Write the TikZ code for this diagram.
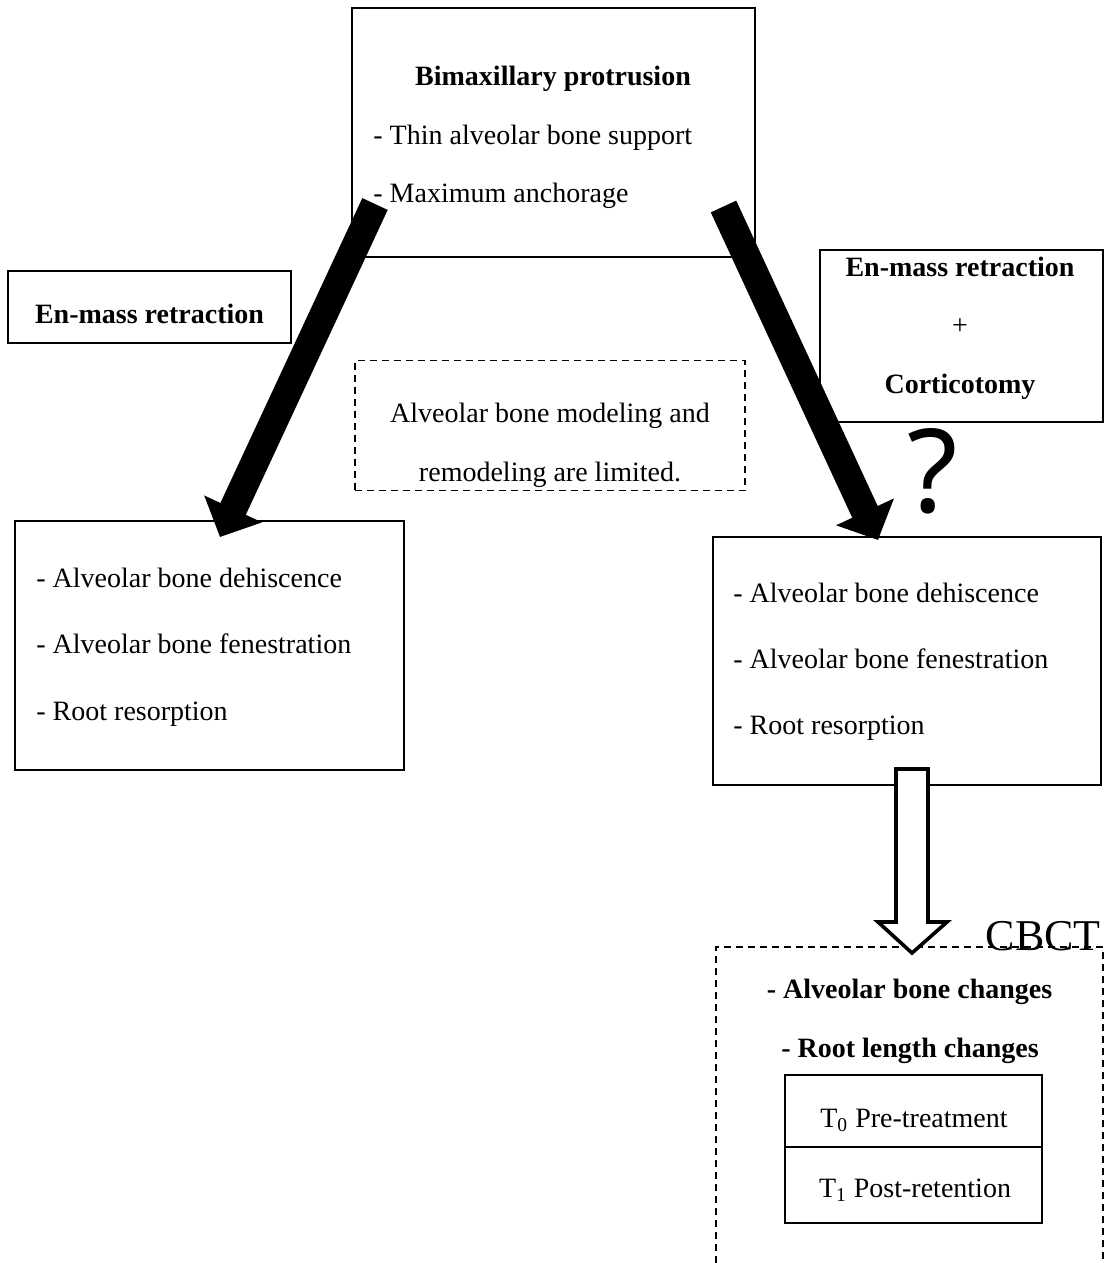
\documentclass[tikz,border=0pt]{standalone}
\usepackage{fontspec}
\setmainfont{Liberation Serif}
\newfontfamily\qfont{Noto Sans}
\usetikzlibrary{arrows.meta,calc}
\begin{document}
\begin{tikzpicture}[x=0.5pt,y=-0.5pt,
  font=\fontsize{14}{17}\selectfont,
  box/.style={draw, line width=0.9pt, inner sep=0pt},
  dbox/.style={draw, line width=0.6pt, dash pattern=on 3.5pt off 2.5pt},
  txt/.style={inner sep=0pt, anchor=base west},
  ctxt/.style={inner sep=0pt, anchor=base},
  bigarrow/.style={line width=14pt, -{Triangle[width=31pt,length=15.5pt]}},
  hollow/.style={draw, line width=1.8pt, fill=white, line join=miter}
]
\useasboundingbox (0,0) rectangle (1112,1263);

% top box
\node[box, minimum width=201.5pt, minimum height=124.5pt] (top) at (553.5,132.5) {};
\node[ctxt] (t1) at (553,86) {\bfseries Bimaxillary protrusion};
\node[txt] (t2) at (373,145) {- Thin alveolar bone support};
\node[txt] (t3) at (373,202) {- Maximum anchorage};

% left treatment box
\node[box, minimum width=141.5pt, minimum height=36pt] (lret) at (149.5,307) {};
\node[ctxt] (lrett) at (149.5,323) {\bfseries En-mass retraction};

% middle dashed box
\node[dbox, minimum width=195pt, minimum height=65pt] (mid) at (550,425.5) {};
\node[ctxt] (m1) at (550,422) {Alveolar bone modeling and};
\node[ctxt] (m2) at (550,481) {remodeling are limited.};

% right treatment box
\node[box, minimum width=141.5pt, minimum height=86pt] (rret) at (961.5,336) {};
\node[ctxt] (r1) at (960,276) {\bfseries En-mass retraction};
\node[ctxt] (r2) at (960,334) {+};
\node[ctxt] (r3) at (960,393) {\bfseries Corticotomy};

% question mark
\node[ctxt] (q) at (933,512) {\qfont\fontsize{58}{60}\selectfont ?};

% left result box
\node[box, minimum width=194.5pt, minimum height=124.5pt] (lres) at (209.5,645.5) {};
\node[txt] (l1) at (36,587) {- Alveolar bone dehiscence};
\node[txt] (l2) at (36,653) {- Alveolar bone fenestration};
\node[txt] (l3) at (36,720) {- Root resorption};

% right result box
\node[box, minimum width=194pt, minimum height=124pt] (rres) at (907,661) {};
\node[txt] (rr1) at (733,602) {- Alveolar bone dehiscence};
\node[txt] (rr2) at (733,668) {- Alveolar bone fenestration};
\node[txt] (rr3) at (733,734) {- Root resorption};

% big black arrows
\coordinate (la0) at (375,204);
\coordinate (la1) at (220,537);
\coordinate (ra0) at (723.5,206.5);
\coordinate (ra1) at (878,540);
\draw[bigarrow] (la0) -- (la1);
\draw[bigarrow] (ra0) -- (ra1);

% CBCT dashed region (open at bottom)
\coordinate (c1) at (716,1263);
\coordinate (c2) at (716,947);
\coordinate (c3) at (1103,947);
\coordinate (c4) at (1103,1263);
\draw[dbox] (c1) -- (c2) -- (c3) -- (c4);
\node[inner sep=0pt, anchor=base east, font=\fontsize{22}{24}\selectfont] (cbct) at (1101,950) {CBCT};

% hollow arrow
\coordinate (ha0) at (912,769);
\coordinate (ha1) at (912,953);
\draw[hollow] ($(ha0)+(-16,0)$) -- ($(ha0)+(16,0)$) -- ($(ha1)+(16,-31)$) -- ($(ha1)+(35,-31)$)
  -- (ha1) -- ($(ha1)+(-34,-31)$) -- ($(ha1)+(-16,-31)$) -- cycle;

\node[ctxt] (cb1) at (909.5,998) {\bfseries - Alveolar bone changes};
\node[ctxt] (cb2) at (910,1057) {\bfseries - Root length changes};

\node[box, minimum width=128.5pt, minimum height=36pt] (tz) at (913.5,1111) {};
\node[box, minimum width=128.5pt, minimum height=38pt] (to) at (913.5,1185) {};
\node[ctxt] (tzt) at (914,1127) {T\textsubscript{0} Pre-treatment};
\node[ctxt] (tot) at (915,1197) {T\textsubscript{1} Post-retention};
\end{tikzpicture}
\end{document}
